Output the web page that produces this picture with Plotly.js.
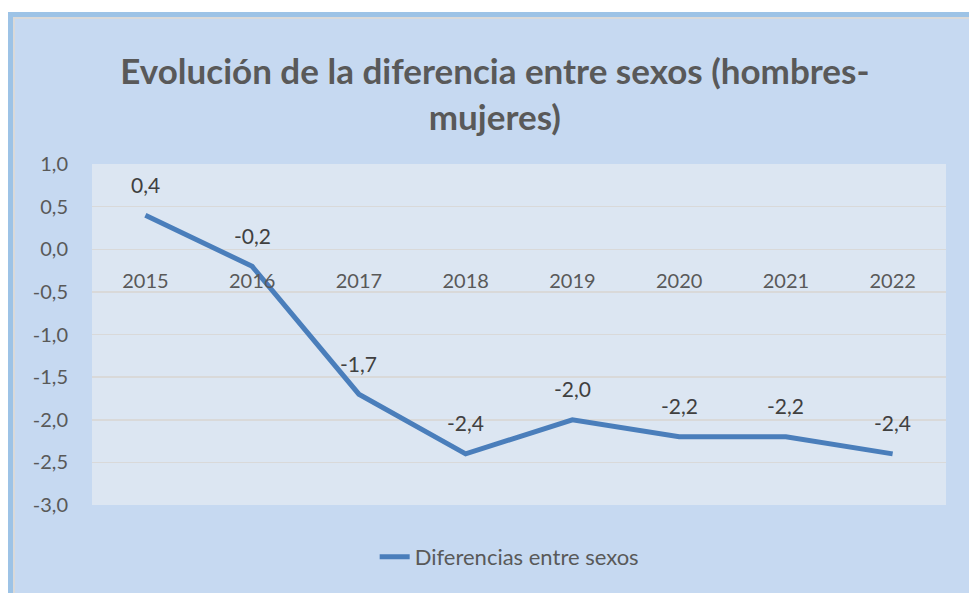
<!DOCTYPE html>
<html><head><meta charset="utf-8">
<script src="https://cdn.plot.ly/plotly-3.0.1.min.js"></script>
<style>
html,body{margin:0;padding:0;background:#ffffff;width:969px;height:593px;overflow:hidden;}
#frame{position:absolute;left:8px;top:12px;width:961px;height:581px;box-sizing:border-box;border-left:5px solid #9dc3e6;border-top:5px solid #9dc3e6;background:#d9d9d9;}
#chart{position:absolute;left:15px;top:19px;width:954px;height:574px;}
</style></head>
<body>
<div id="frame"></div>
<div id="chart"></div>
<script>
const years = ['2015','2016','2017','2018','2019','2020','2021','2022'];
const diffs = [0.4, -0.2, -1.7, -2.4, -2.0, -2.2, -2.2, -2.4];
const seriesName = 'Diferencias entre sexos';
const yTickVals = [1.0, 0.5, 0.0, -0.5, -1.0, -1.5, -2.0, -2.5, -3.0];
const yTickLabels = ['1,0','0,5','0,0','-0,5','-1,0','-1,5','-2,0','-2,5','-3,0'];
const titleText = 'Evolución de la diferencia entre sexos (hombres-<br>mujeres)';

const fontFam = 'Lato, "Open Sans", sans-serif';
const fmt = v => v.toFixed(1).replace('.', ',');

const trace = {
  x: years, y: diffs, type: 'scatter', mode: 'lines', name: seriesName,
  line: {color: '#4a7ebb', width: 5},
  hoverinfo: 'skip'
};

const annotations = years.map((yr, i) => ({
  x: i, y: diffs[i], xref: 'x', yref: 'y', text: fmt(diffs[i]),
  showarrow: false, yshift: 31, font: {family: fontFam, size: 21, color: '#404040'}
}));

const layout = {
  width: 954, height: 574,
  margin: {l: 77, r: 23, t: 145, b: 88},
  paper_bgcolor: '#c6d9f1', plot_bgcolor: '#dce6f2',
  font: {family: fontFam, color: '#595959'},
  title: {text: titleText, x: 0.503, xref: 'container', xanchor: 'center',
          y: 1 - 65/574, yref: 'container', yanchor: 'middle',
          font: {family: fontFam, size: 35, color: '#595959', weight: 'bold'}},
  xaxis: {type: 'category', range: [-0.5, 7.5], anchor: 'free', position: 0.75,
          showgrid: false, showline: false, zeroline: false, ticks: '',
          ticklabelstandoff: 18, tickfont: {family: fontFam, size: 20, color: '#595959'},
          fixedrange: true},
  yaxis: {range: [-3, 1], tickvals: yTickVals, ticktext: yTickLabels,
          showgrid: true, gridcolor: '#d9d9d9', gridwidth: 1.5, zeroline: false,
          showline: false, ticks: '', ticklabelstandoff: 23,
          tickfont: {family: fontFam, size: 20, color: '#595959'}, fixedrange: true},
  showlegend: true,
  legend: {orientation: 'h', x: 0.331, xanchor: 'left', y: (486 - 538) / 341, yanchor: 'middle',
           bgcolor: 'rgba(0,0,0,0)', font: {family: fontFam, size: 22, color: '#595959'}},
  annotations: annotations
};

Plotly.newPlot('chart', [trace], layout, {displayModeBar: false, staticPlot: true});
</script>
</body></html>
